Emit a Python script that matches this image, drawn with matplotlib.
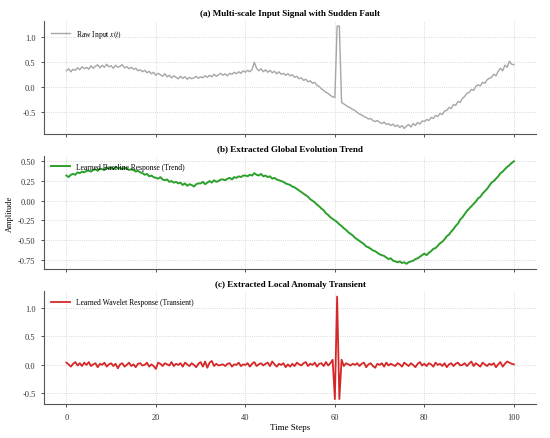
import numpy as np
import matplotlib
matplotlib.use("Agg")
import matplotlib.pyplot as plt

# time axis, step 0.5
t = np.arange(0, 100.5, 0.5)

# raw input x(t)
raw_input = [
    0.33, 0.37, 0.31, 0.36, 0.34, 0.39, 0.35, 0.41, 0.37, 0.40,
    0.36, 0.43, 0.38, 0.42, 0.45, 0.39, 0.44, 0.40, 0.46, 0.41,
    0.43, 0.38, 0.44, 0.40, 0.42, 0.45, 0.39, 0.41, 0.37, 0.40,
    0.36, 0.38, 0.33, 0.35, 0.31, 0.34, 0.29, 0.32, 0.27, 0.30,
    0.24, 0.28, 0.25, 0.22, 0.27, 0.21, 0.24, 0.19, 0.23, 0.20,
    0.17, 0.22, 0.18, 0.21, 0.16, 0.20, 0.17, 0.19, 0.22, 0.18,
    0.21, 0.19, 0.23, 0.20, 0.24, 0.21, 0.26, 0.22, 0.25, 0.28,
    0.24, 0.27, 0.23, 0.28, 0.26, 0.30, 0.27, 0.31, 0.28, 0.33,
    0.30, 0.34, 0.31, 0.36, 0.50, 0.38, 0.33, 0.37, 0.31, 0.35,
    0.30, 0.34, 0.29, 0.32, 0.27, 0.31, 0.26, 0.28, 0.24, 0.27,
    0.23, 0.25, 0.20, 0.22, 0.17, 0.19, 0.14, 0.16, 0.11, 0.13,
    0.08, 0.10, 0.04, 0.02, -0.03, -0.06, -0.10, -0.12, -0.16, -0.19,
    -0.20, 1.22, 1.22, -0.30, -0.33, -0.36, -0.39, -0.41, -0.44, -0.46,
    -0.50, -0.53, -0.55, -0.58, -0.60, -0.63, -0.62, -0.66, -0.68, -0.66,
    -0.70, -0.72, -0.69, -0.74, -0.72, -0.76, -0.73, -0.78, -0.75, -0.80,
    -0.76, -0.82, -0.77, -0.74, -0.79, -0.72, -0.76, -0.70, -0.73, -0.67,
    -0.68, -0.64, -0.66, -0.60, -0.62, -0.56, -0.58, -0.52, -0.54, -0.47,
    -0.46, -0.40, -0.42, -0.34, -0.36, -0.28, -0.30, -0.22, -0.18, -0.12,
    -0.10, -0.04, -0.06, 0.02, 0.05, 0.03, 0.10, 0.08, 0.15, 0.18,
    0.20, 0.26, 0.23, 0.32, 0.38, 0.33, 0.44, 0.40, 0.52, 0.46,
    0.45,
]

# learned baseline response (trend), panel (b)
trend = [
    0.32, 0.30, 0.33, 0.34, 0.33, 0.36, 0.35, 0.37, 0.36, 0.38,
    0.38, 0.37, 0.39, 0.40, 0.38, 0.41, 0.40, 0.39, 0.42, 0.41,
    0.42, 0.40, 0.43, 0.41, 0.42, 0.40, 0.42, 0.41, 0.39, 0.40,
    0.39, 0.37, 0.38, 0.36, 0.35, 0.33, 0.34, 0.31, 0.32, 0.30,
    0.29, 0.28, 0.30, 0.27, 0.26, 0.27, 0.24, 0.25, 0.23, 0.24,
    0.22, 0.23, 0.20, 0.22, 0.19, 0.21, 0.20, 0.18, 0.21, 0.22,
    0.22, 0.24, 0.21, 0.23, 0.25, 0.23, 0.26, 0.24, 0.25, 0.27,
    0.27, 0.26, 0.28, 0.29, 0.27, 0.30, 0.29, 0.31, 0.30, 0.32,
    0.32, 0.31, 0.33, 0.32, 0.35, 0.33, 0.32, 0.34, 0.31, 0.32,
    0.30, 0.31, 0.28, 0.29, 0.27, 0.26, 0.25, 0.24, 0.22, 0.21,
    0.20, 0.18, 0.17, 0.15, 0.13, 0.11, 0.09, 0.07, 0.05, 0.02,
    0.00, -0.02, -0.05, -0.07, -0.10, -0.12, -0.16, -0.18, -0.21, -0.23,
    -0.25, -0.27, -0.30, -0.32, -0.35, -0.37, -0.40, -0.42, -0.44, -0.47,
    -0.49, -0.51, -0.53, -0.55, -0.58, -0.59, -0.61, -0.63, -0.64, -0.66,
    -0.68, -0.69, -0.70, -0.72, -0.74, -0.73, -0.76, -0.77, -0.78, -0.77,
    -0.79, -0.78, -0.80, -0.78, -0.77, -0.76, -0.74, -0.73, -0.71, -0.69,
    -0.67, -0.69, -0.66, -0.64, -0.61, -0.60, -0.57, -0.54, -0.52, -0.49,
    -0.45, -0.43, -0.39, -0.36, -0.32, -0.29, -0.24, -0.21, -0.17, -0.13,
    -0.10, -0.07, -0.04, -0.01, 0.03, 0.05, 0.09, 0.12, 0.15, 0.19,
    0.23, 0.25, 0.28, 0.31, 0.35, 0.37, 0.40, 0.43, 0.45, 0.48,
    0.50,
]

# learned wavelet response (transient), panel (c)
transient = [
    0.04, 0.01, -0.03, 0.02, 0.05, -0.01, 0.03, -0.02, 0.04, 0.00,
    0.05, -0.02, 0.01, 0.03, -0.04, 0.02, 0.00, 0.04, -0.03, 0.01,
    0.03, -0.02, 0.02, -0.06, 0.01, 0.03, -0.03, 0.00, 0.04, -0.02,
    0.01, -0.04, 0.02, 0.03, -0.01, 0.00, 0.04, -0.03, 0.01, -0.02,
    -0.07, 0.04, 0.02, -0.02, 0.03, 0.01, -0.01, 0.05, -0.02, 0.02,
    0.00, 0.03, -0.03, 0.04, 0.01, -0.02, 0.03, 0.00, -0.04, 0.02,
    0.05, -0.03, 0.06, -0.05, 0.04, 0.07, -0.02, 0.02, -0.01, 0.00,
    0.01, -0.02, 0.02, 0.03, -0.03, 0.01, 0.00, 0.04, -0.02, 0.01,
    0.00, 0.03, -0.03, 0.02, 0.05, -0.02, 0.01, 0.03, -0.01, 0.02,
    0.04, -0.02, 0.06, 0.01, -0.03, 0.02, 0.00, 0.03, -0.04, 0.01,
    -0.03, 0.02, -0.02, 0.04, 0.01, -0.01, 0.03, 0.05, -0.02, 0.02,
    0.00, 0.04, -0.03, 0.02, 0.03, -0.02, 0.05, -0.01, 0.03, 0.09,
    -0.60, 1.20, -0.60, 0.09, -0.02, 0.03, 0.01, -0.01, 0.02, 0.00,
    0.03, -0.02, 0.02, 0.04, -0.04, 0.01, 0.03, -0.02, -0.05, 0.02,
    0.00, 0.03, -0.03, 0.04, -0.01, 0.02, 0.00, -0.02, 0.03, 0.01,
    -0.03, 0.04, 0.01, -0.02, 0.03, 0.00, -0.04, 0.02, 0.05, -0.01,
    0.02, -0.02, 0.03, 0.01, -0.03, 0.04, 0.00, 0.02, -0.02, 0.03,
    -0.04, 0.01, 0.03, -0.02, 0.02, 0.04, -0.01, 0.00, 0.03, -0.02,
    0.02, 0.06, -0.02, 0.03, 0.00, -0.03, 0.04, 0.01, -0.02, 0.02,
    0.00, 0.03, -0.04, 0.01, 0.05, -0.03, 0.02, 0.06, 0.04, 0.02,
    0.01,
]

plt.rcParams['font.family'] = ['Liberation Serif', 'DejaVu Serif']
plt.rcParams['mathtext.fontset'] = 'stix'
plt.rcParams['axes.unicode_minus'] = False

fig, axes = plt.subplots(3, 1, figsize=(5.5, 4.39), dpi=100, sharex=True)
fig.subplots_adjust(left=0.08, right=0.975, top=0.95, bottom=0.077, hspace=0.2)

panels = [
    (raw_input, '#a6a6a6', 1.0, r'Raw Input $x(t)$', '(a) Multi-scale Input Signal with Sudden Fault'),
    (trend, '#2ca02c', 1.4, 'Learned Baseline Response (Trend)', '(b) Extracted Global Evolution Trend'),
    (transient, '#d62728', 1.3, 'Learned Wavelet Response (Transient)', '(c) Extracted Local Anomaly Transient'),
]

for ax, (y, color, lw, label, title) in zip(axes, panels):
    ax.plot(t, y, color=color, lw=lw, label=label)
    ax.set_title(title, fontsize=6.6, fontweight='bold', pad=4)
    ax.legend(loc='upper left', frameon=False, fontsize=5.5, handlelength=2.5)
    ax.grid(True, linestyle=':', color='#cccccc', linewidth=0.6)
    ax.spines['top'].set_visible(False)
    ax.spines['right'].set_visible(False)
    ax.spines['left'].set_color('#555555')
    ax.spines['bottom'].set_color('#555555')
    ax.tick_params(labelsize=6, length=2.5, width=0.6, colors='#333333')

axes[1].set_ylabel('Amplitude', fontsize=6, labelpad=3)
axes[2].set_xlabel('Time Steps', fontsize=6.5, labelpad=2)
axes[2].set_xticks([0, 20, 40, 60, 80, 100])

fig.savefig('out.png', dpi=100)
